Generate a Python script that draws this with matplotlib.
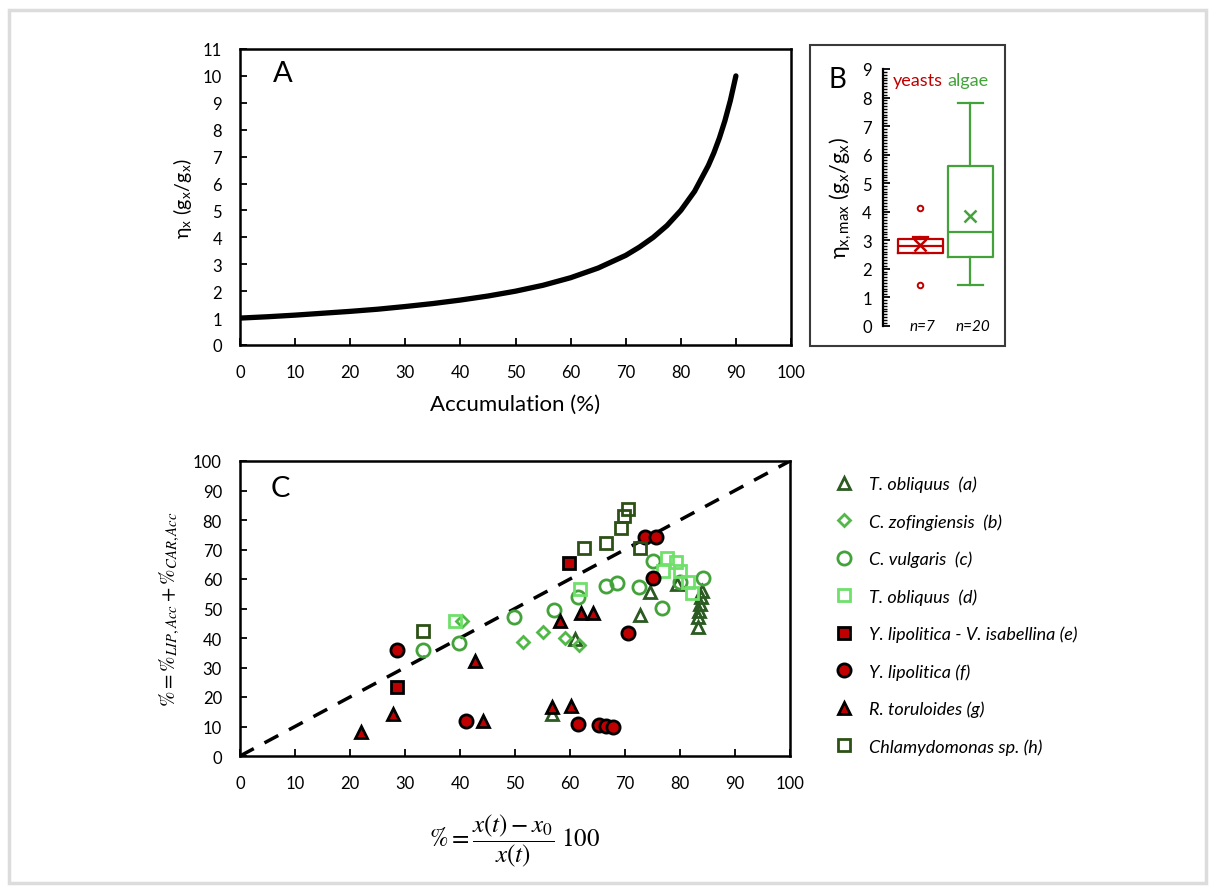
import matplotlib
matplotlib.use("Agg")
import matplotlib.pyplot as plt
from matplotlib.patches import Rectangle
from matplotlib.ticker import MultipleLocator

plt.rcParams["font.family"] = ["Lato", "DejaVu Sans"]
plt.rcParams["mathtext.fontset"] = "stix"

# ---- panel A: eta_x vs accumulation
acc = [0, 5, 10, 15, 20, 25, 30, 35, 40, 45, 50, 55, 60, 65, 70, 72.5, 75,
       77.5, 80, 82.5, 85, 86, 87, 88, 89, 90]
eta = [1.00, 1.05, 1.11, 1.18, 1.25, 1.33, 1.43, 1.54, 1.67, 1.82, 2.00, 2.22,
       2.50, 2.86, 3.33, 3.64, 4.00, 4.44, 5.00, 5.71, 6.67, 7.14, 7.69, 8.33,
       9.09, 10.0]

# ---- panel B: box plot summary
groups = ["yeasts", "algae"]
group_n = ["n=7", "n=20"]
box_q1 = [2.55, 2.40]
box_med = [2.78, 3.27]
box_q3 = [3.05, 5.60]
box_lo = [2.55, 1.42]
box_hi = [3.12, 7.80]
box_mean = [2.82, 3.85]
box_fliers = [[4.12, 1.42], []]

# ---- panel C: scatter series
a_x = [56.8, 60.9, 72.7, 74.5, 79.4, 84.0, 83.8, 83.6, 83.4, 83.3, 83.3]
a_y = [14.2, 39.7, 47.8, 55.5, 58.3, 56.0, 53.8, 51.5, 49.3, 47.0, 43.6]
b_x = [40.4, 51.4, 55.0, 59.1, 61.7]
b_y = [45.9, 38.5, 42.1, 39.9, 37.6]
c_x = [33.2, 39.8, 49.9, 57.1, 61.4, 66.5, 68.6, 72.6, 75.0, 76.8, 80.0, 84.2]
c_y = [35.9, 38.3, 47.2, 49.6, 53.8, 57.7, 58.5, 57.2, 66.0, 50.1, 58.9, 60.2]
d_x = [39.1, 61.8, 77.6, 79.3, 76.9, 80.0, 81.5, 82.1]
d_y = [45.9, 56.6, 67.0, 65.9, 62.8, 62.6, 58.9, 55.3]
e_x = [28.5, 59.9]
e_y = [23.3, 65.3]
f_x = [28.5, 41.1, 73.6, 75.6, 75.0, 70.5, 61.4, 65.3, 66.5, 67.8]
f_y = [35.8, 11.9, 74.2, 74.2, 60.4, 41.6, 10.8, 10.5, 10.1, 9.7]
g_x = [22.0, 27.9, 42.8, 44.2, 58.1, 62.0, 64.1, 56.7, 60.1]
g_y = [8.0, 14.2, 32.1, 12.0, 45.9, 48.4, 48.4, 16.7, 17.1]
h_x = [33.2, 62.5, 66.5, 69.3, 69.8, 70.5, 72.7]
h_y = [42.5, 70.5, 72.1, 77.2, 81.5, 83.7, 70.5]
diag = [0, 100]

RED = "#c00000"
DKGREEN = "#2b5a22"
GREEN = "#43a33a"
MIDGREEN = "#52b848"
LTGREEN = "#6fe06a"
HGREEN = "#2d5016"

W, H = 1213, 887
fig = plt.figure(figsize=(W / 100, H / 100), dpi=100)


def fx(px):
    return px / W


def fy(py):
    return 1 - py / H


# outer light frame
fig.patches.append(Rectangle((fx(9), fy(884)), fx(1197), 873 / H, transform=fig.transFigure,
                             fill=False, edgecolor="#dcdcdc", lw=2.5))

tick_kw = dict(direction="in", length=5, width=1.3, labelsize=12, colors="black")

# ---------------- A
axA = fig.add_axes([fx(240), fy(346), fx(551), (346 - 50) / H])
axA.plot(acc, eta, color="black", lw=3.8, solid_capstyle="round")
axA.set_xlim(0, 100)
axA.set_ylim(0, 11)
axA.set_xticks(range(0, 101, 10))
axA.set_yticks(range(0, 12))
axA.tick_params(**tick_kw)
axA.tick_params(axis="x", pad=14)
axA.tick_params(axis="y", pad=13)
for s in axA.spines.values():
    s.set_linewidth(1.8)
axA.set_xlabel("Accumulation (%)", fontsize=16, labelpad=10)
axA.set_ylabel(r"η$_\mathregular{x}$ (g$_\mathregular{x}$/g$_\mathregular{x}$)", fontsize=14, labelpad=6)
axA.text(0.06, 0.92, "A", transform=axA.transAxes, fontsize=21, va="center")

# ---------------- B
fig.patches.append(Rectangle((fx(810), fy(347)), fx(195), 301 / H, transform=fig.transFigure,
                             fill=False, edgecolor="#3a3a3a", lw=1.5))
axB = fig.add_axes([fx(883), fy(326.7), fx(120), (326.7 - 70) / H])
cols = [RED, GREEN]
pos = [1, 2]
for i in range(2):
    st = dict(med=box_med[i], q1=box_q1[i], q3=box_q3[i], whislo=box_lo[i],
              whishi=box_hi[i], mean=box_mean[i], fliers=box_fliers[i])
    c = cols[i]
    axB.bxp([st], positions=[pos[i]], widths=0.9, showmeans=True,
            boxprops=dict(color=c, lw=1.6), medianprops=dict(color=c, lw=1.6),
            whiskerprops=dict(color=c, lw=1.6), capprops=dict(color=c, lw=1.6),
            meanprops=dict(marker="x", markeredgecolor=c, markersize=8, mew=1.8),
            flierprops=dict(marker="o", markerfacecolor="white", markeredgecolor=c,
                            markersize=4, mew=1.4),
            capwidths=[0.5 if i else 0.3])
    axB.text(pos[i] - 0.05, 8.6, groups[i], color=c, fontsize=13, ha="center", va="center")
    axB.text(pos[i] + 0.05, 0.0, group_n[i], fontsize=11, style="italic", ha="center", va="center")
axB.set_xlim(0.26, 2.66)
axB.set_ylim(0, 9)
axB.set_yticks(range(0, 10))
axB.yaxis.set_minor_locator(MultipleLocator(0.1))
axB.tick_params(axis="y", **tick_kw)
axB.tick_params(axis="y", which="minor", direction="in", length=3, width=1)
axB.tick_params(axis="y", pad=8)
axB.set_xticks([])
for k in ["top", "right", "bottom"]:
    axB.spines[k].set_visible(False)
axB.spines["left"].set_linewidth(1.6)
axB.set_ylabel(r"η$_\mathregular{x,max}$ (g$_\mathregular{x}$/g$_\mathregular{x}$)", fontsize=15.5, labelpad=6)
fig.text(fx(828), fy(80), "B", fontsize=20, va="center")

# ---------------- C
axC = fig.add_axes([fx(240), fy(757), fx(550), (757 - 462) / H])
axC.plot(diag, diag, color="black", lw=2.5, dashes=(4.5, 3.5))
axC.plot(a_x, a_y, ls="none", marker="^", mfc="none", mec=DKGREEN, mew=2, ms=9,
         label="T. obliquus  (a)")
axC.plot(b_x, b_y, ls="none", marker="D", mfc="none", mec=MIDGREEN, mew=2, ms=6.5,
         label="C. zofingiensis  (b)")
axC.plot(c_x, c_y, ls="none", marker="o", mfc="none", mec=GREEN, mew=2, ms=9.5,
         label="C. vulgaris  (c)")
axC.plot(d_x, d_y, ls="none", marker="s", mfc="none", mec=LTGREEN, mew=2, ms=9,
         label="T. obliquus  (d)")
axC.plot(e_x, e_y, ls="none", marker="s", mfc=RED, mec="black", mew=2, ms=9,
         label="Y. lipolitica - V. isabellina (e)")
axC.plot(f_x, f_y, ls="none", marker="o", mfc=RED, mec="black", mew=2, ms=9.5,
         label="Y. lipolitica (f)")
axC.plot(g_x, g_y, ls="none", marker="^", mfc=RED, mec="black", mew=2, ms=9,
         label="R. toruloides (g)")
axC.plot(h_x, h_y, ls="none", marker="s", mfc="none", mec=HGREEN, mew=2, ms=9,
         label="Chlamydomonas sp. (h)")
axC.set_xlim(0, 100)
axC.set_ylim(0, 100)
axC.set_xticks(range(0, 101, 10))
axC.set_yticks(range(0, 101, 10))
axC.tick_params(**tick_kw)
axC.tick_params(axis="x", pad=14)
axC.tick_params(axis="y", pad=13)
for s in axC.spines.values():
    s.set_linewidth(1.8)
axC.set_xlabel(r"$\% = \dfrac{x(t) - x_0}{x(t)}\ 100$", fontsize=18, labelpad=15)
axC.set_ylabel(r"$\% = \%_{LIP,Acc} + \%_{CAR,Acc}$", fontsize=15, labelpad=8)
axC.text(0.055, 0.91, "C", transform=axC.transAxes, fontsize=21, va="center")
leg = axC.legend(loc="upper left", bbox_to_anchor=(1.065, 0.975), frameon=False,
                 fontsize=13, labelspacing=1.16, handletextpad=0.8, handlelength=1.2,
                 borderaxespad=0)
for t in leg.get_texts():
    t.set_style("italic")

fig.savefig("out.png", dpi=100)
